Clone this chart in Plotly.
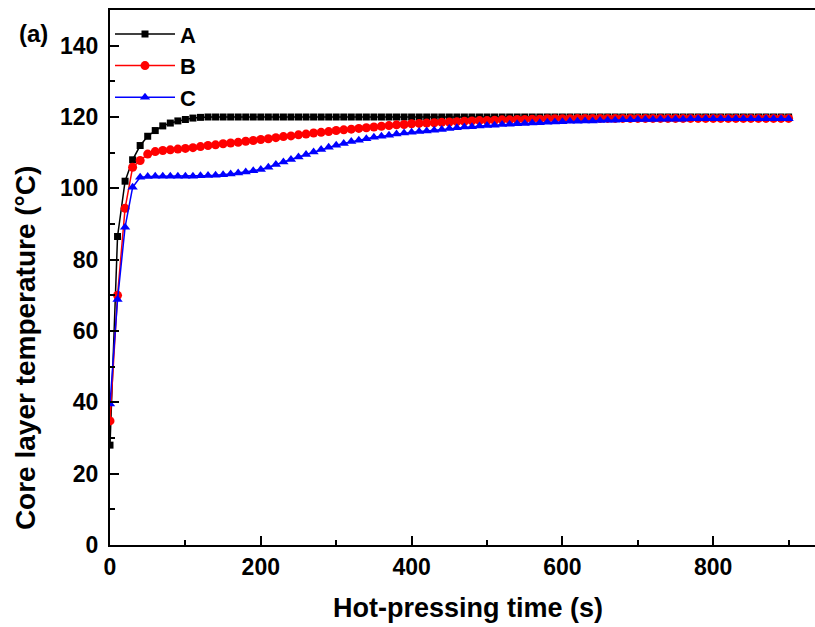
import plotly.graph_objects as go

time_s = list(range(0, 910, 10))

temp_A = [28.0, 86.5, 102.0, 108.0, 112.0, 114.6, 116.2, 117.5, 118.3, 118.9,
          119.3, 119.7, 119.9, 120.0, 120.0, 120.0, 120.0, 120.0, 120.0, 120.0,
          120.0, 120.0, 120.0, 120.0, 120.0, 120.0, 120.0, 120.0, 120.0, 120.0,
          120.0, 120.0, 120.0, 120.0, 120.0, 120.0, 120.0, 120.0, 120.0, 120.0,
          120.0, 120.0, 120.0, 120.0, 120.0, 120.0, 120.0, 120.0, 120.0, 120.0,
          120.0, 120.0, 120.0, 120.0, 120.0, 120.0, 120.0, 120.0, 120.0, 120.0,
          120.0, 120.0, 120.0, 120.0, 120.0, 120.0, 120.0, 120.0, 120.0, 120.0,
          120.0, 120.0, 120.0, 120.0, 120.0, 120.0, 120.0, 120.0, 120.0, 120.0,
          120.0, 120.0, 120.0, 120.0, 120.0, 120.0, 120.0, 120.0, 120.0, 120.0,
          120.0]

temp_B = [34.8, 70.0, 94.4, 105.9, 107.8, 109.6, 110.3, 110.6, 110.8, 111.0,
          111.2, 111.4, 111.7, 112.0, 112.2, 112.5, 112.7, 112.9, 113.2, 113.4,
          113.7, 113.9, 114.2, 114.5, 114.7, 115.0, 115.2, 115.5, 115.7, 115.9,
          116.2, 116.4, 116.6, 116.8, 117.0, 117.2, 117.4, 117.6, 117.8, 117.9,
          118.1, 118.2, 118.3, 118.4, 118.5, 118.6, 118.7, 118.8, 118.9, 119.0,
          119.0, 119.1, 119.2, 119.2, 119.3, 119.3, 119.4, 119.4, 119.5, 119.5,
          119.5, 119.5, 119.6, 119.6, 119.6, 119.6, 119.6, 119.6, 119.6, 119.6,
          119.6, 119.6, 119.6, 119.6, 119.6, 119.6, 119.6, 119.6, 119.6, 119.6,
          119.6, 119.6, 119.6, 119.6, 119.6, 119.6, 119.6, 119.6, 119.6, 119.6,
          119.6]

temp_C = [39.5, 68.8, 89.1, 100.3, 103.1, 103.3, 103.4, 103.4, 103.4, 103.4,
          103.4, 103.4, 103.5, 103.6, 103.7, 103.8, 104.0, 104.3, 104.6, 104.9,
          105.3, 105.9, 106.7, 107.4, 108.1, 108.8, 109.5, 110.2, 110.9, 111.5,
          112.1, 112.6, 113.1, 113.5, 113.9, 114.3, 114.6, 114.9, 115.2, 115.5,
          115.7, 115.9, 116.1, 116.3, 116.5, 116.8, 117.0, 117.2, 117.3, 117.5,
          117.6, 117.7, 117.9, 118.0, 118.1, 118.2, 118.3, 118.4, 118.5, 118.6,
          118.7, 118.8, 118.8, 118.9, 118.9, 119.0, 119.1, 119.1, 119.2, 119.2,
          119.3, 119.3, 119.3, 119.4, 119.4, 119.4, 119.4, 119.5, 119.5, 119.5,
          119.5, 119.5, 119.5, 119.5, 119.5, 119.5, 119.5, 119.5, 119.5, 119.5,
          119.5]

series_names = ["A", "B", "C"]
series_colors = ["#000000", "#ff0000", "#0000ff"]
series_symbols = ["square", "circle", "triangle-up"]
series_sizes = [7, 9, 9]
series_values = [temp_A, temp_B, temp_C]

x_title = "Hot-pressing time (s)"
y_title = "Core layer temperature (°C)"
panel_label = "(a)"

FONT = "Liberation Sans, Arial, sans-serif"

fig = go.Figure()
for name, color, sym, size, vals in zip(series_names, series_colors, series_symbols,
                                        series_sizes, series_values):
    fig.add_trace(go.Scatter(
        x=time_s, y=vals, name=name, mode="lines+markers",
        line=dict(color=color, width=1.5),
        marker=dict(color=color, symbol=sym, size=size, line=dict(width=0)),
    ))

axis_common = dict(
    showline=True, linecolor="black", linewidth=2,
    ticks="inside", ticklen=9, tickwidth=2, tickcolor="black",
    showgrid=False, zeroline=False, automargin=False,
    tickfont=dict(family=FONT, size=23, color="black", weight="bold"),
)

fig.update_layout(
    width=815, height=627,
    margin=dict(l=110, r=0, t=10, b=82),
    plot_bgcolor="white", paper_bgcolor="white",
    xaxis=dict(
        range=[0, 935], dtick=200, tick0=0, mirror=True,
        minor=dict(ticks="inside", ticklen=5, tickwidth=2, tickcolor="black", dtick=100),
        **axis_common,
    ),
    yaxis=dict(
        range=[0, 150], dtick=20, tick0=0, ticklabelstandoff=5,
        minor=dict(ticks="inside", ticklen=5, tickwidth=2, tickcolor="black", dtick=10),
        **axis_common,
    ),
    legend=dict(
        x=0.0, y=0.994, xanchor="left", yanchor="top",
        bgcolor="rgba(0,0,0,0)", itemwidth=60,
        font=dict(family=FONT, size=22, color="black", weight="bold"),
    ),
    annotations=[
        dict(text=panel_label, xref="paper", yref="paper", x=-0.1085, y=0.957,
             xanchor="center", yanchor="middle", showarrow=False,
             font=dict(family=FONT, size=24, color="black", weight="bold")),
        dict(text=x_title, xref="paper", yref="paper", x=0.508, y=-0.118,
             xanchor="center", yanchor="middle", showarrow=False,
             font=dict(family=FONT, size=27, color="black", weight="bold")),
        dict(text=y_title, xref="paper", yref="paper", x=-0.1206, y=0.368,
             xanchor="center", yanchor="middle", showarrow=False, textangle=-90,
             font=dict(family=FONT, size=28, color="black", weight="bold")),
    ],
)

fig.write_html("out.html", config={"displayModeBar": False},
               post_script="document.body.style.margin='0';")
